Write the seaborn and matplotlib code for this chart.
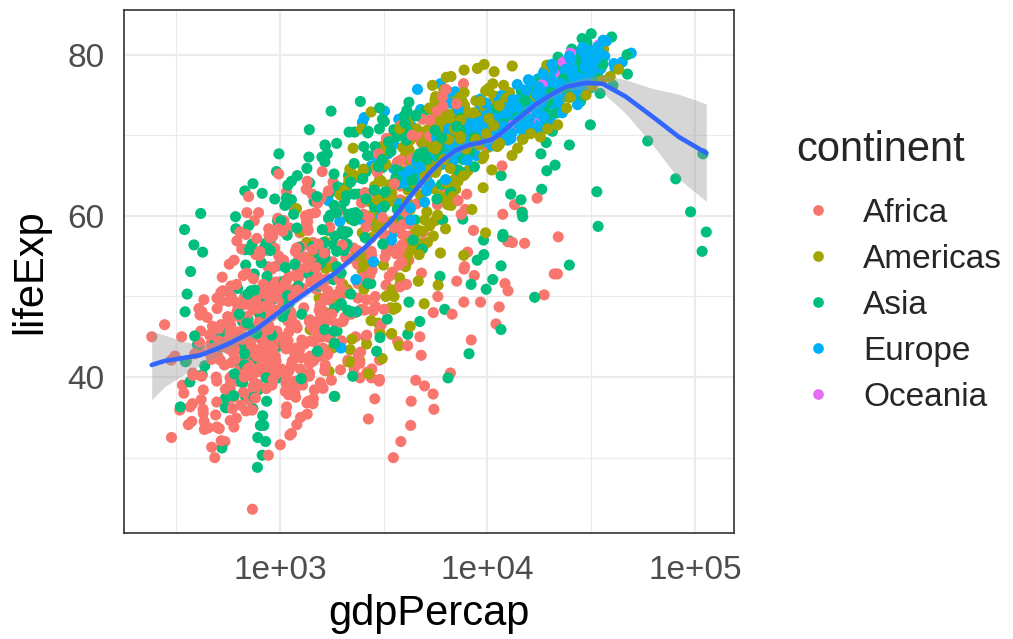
"""
Gapminder scatter: life expectancy vs GDP per capita (log scale), by continent, with smooth.
Output: out.png
"""

import math

import pandas as pd
import matplotlib
matplotlib.use("Agg")
import matplotlib.pyplot as plt
from matplotlib.lines import Line2D
from matplotlib.ticker import NullFormatter
import seaborn as sns

CONTINENTS = ["Africa", "Americas", "Asia", "Europe", "Oceania"]
PALETTE = ["#F8766D", "#A3A500", "#00BF7D", "#00B0F6", "#E76BF3"]

# one row per country, 12 observations (1952..2007)
AFRICA_NAMES = ["Algeria", "Angola", "Benin", "Botswana", "Burkina Faso", "Burundi", "Cameroon",
                "Central African Republic", "Chad", "Comoros", "Congo, Dem. Rep.", "Congo, Rep.",
                "Cote d'Ivoire", "Djibouti", "Egypt", "Equatorial Guinea", "Eritrea", "Ethiopia",
                "Gabon", "Gambia", "Ghana", "Guinea", "Guinea-Bissau", "Kenya", "Lesotho", "Liberia",
                "Libya", "Madagascar", "Malawi", "Mali", "Mauritania", "Mauritius", "Morocco",
                "Mozambique", "Namibia", "Niger", "Nigeria", "Reunion", "Rwanda",
                "Sao Tome and Principe", "Senegal", "Sierra Leone", "Somalia", "South Africa", "Sudan",
                "Swaziland", "Tanzania", "Togo", "Tunisia", "Uganda", "Zambia", "Zimbabwe"]
AFRICA_GDP = [
    [2449, 3014, 2551, 3247, 4183, 4910, 5745, 5681, 5023, 4797, 5288, 6223],
    [3521, 3828, 4269, 5523, 5473, 3009, 2757, 2430, 2628, 2277, 2773, 4797],
    [1063, 960, 949, 1036, 1086, 1029, 1278, 1226, 1191, 1233, 1373, 1441],
    [851, 918, 984, 1215, 2264, 3215, 4551, 6206, 7954, 8647, 11004, 12570],
    [543, 617, 722, 795, 855, 743, 807, 912, 932, 946, 1038, 1217],
    [339, 380, 355, 413, 464, 556, 560, 622, 632, 463, 446, 430],
    [1173, 1313, 1400, 1508, 1684, 1783, 2368, 2603, 1793, 1694, 1934, 2042],
    [1071, 1191, 1193, 1136, 1070, 1109, 956, 844, 748, 741, 738, 706],
    [1179, 1308, 1390, 1197, 1104, 1134, 798, 952, 1058, 1005, 1156, 1704],
    [1103, 1211, 1407, 1876, 1938, 1173, 1267, 1316, 1247, 1174, 1076, 987],
    [781, 906, 896, 862, 905, 796, 674, 673, 458, 312, 241, 278],
    [2126, 2315, 2465, 2678, 3214, 3259, 4880, 4201, 4017, 3485, 3485, 3633],
    [1389, 1501, 1729, 2052, 2378, 2518, 2603, 2157, 1648, 1786, 1649, 1545],
    [2670, 2865, 3021, 3020, 3694, 3082, 2880, 2880, 2377, 1896, 1908, 2082],
    [1419, 1459, 1693, 1815, 2024, 2785, 3504, 3885, 3795, 4173, 4755, 5581],
    [376, 426, 582, 916, 672, 958, 928, 966, 1132, 2815, 7703, 12154],
    [329, 344, 381, 469, 514, 505, 524, 521, 582, 913, 765, 641],
    [362, 379, 419, 516, 566, 556, 577, 574, 421, 516, 530, 691],
    [4293, 4977, 6631, 8358, 11401, 21746, 15113, 11864, 13522, 14723, 12522, 13206],
    [485, 521, 600, 735, 756, 884, 836, 612, 666, 654, 661, 753],
    [911, 1044, 1190, 1126, 1178, 993, 876, 847, 925, 1005, 1112, 1328],
    [510, 576, 686, 708, 741, 874, 857, 805, 795, 870, 945, 943],
    [300, 432, 431, 427, 649, 601, 579, 738, 750, 797, 575, 580],
    [854, 944, 897, 1057, 1222, 1268, 1348, 1361, 1341, 1361, 1288, 1463],
    [299, 336, 412, 498, 497, 745, 797, 774, 977, 1187, 1275, 1569],
    [576, 620, 634, 714, 803, 641, 573, 506, 636, 609, 531, 415],
    [2388, 3448, 6757, 18773, 21011, 21951, 17364, 11770, 9640, 9467, 9535, 12057],
    [1443, 1589, 1643, 1635, 1749, 1544, 1303, 1156, 1040, 987, 894, 1045],
    [369, 417, 427, 496, 585, 663, 633, 636, 564, 692, 665, 759],
    [452, 490, 496, 546, 581, 686, 618, 684, 740, 790, 952, 1043],
    [743, 847, 1055, 1422, 1586, 1497, 1481, 1421, 1361, 1484, 1579, 1803],
    [1968, 2034, 2530, 2475, 2575, 3710, 3689, 4978, 6058, 7426, 9022, 10957],
    [1688, 1643, 1566, 1712, 1930, 2371, 2703, 2755, 2948, 2983, 3258, 3820],
    [469, 496, 557, 666, 725, 503, 462, 389, 410, 473, 634, 824],
    [2424, 2622, 3174, 3793, 3747, 3876, 4191, 3694, 3805, 3900, 4072, 4811],
    [762, 860, 1071, 1385, 1054, 808, 910, 668, 582, 580, 601, 620],
    [1077, 1101, 1151, 1015, 1698, 1982, 1577, 1385, 1620, 1625, 1615, 2014],
    [2719, 2769, 3173, 4021, 5047, 4320, 5268, 5304, 6101, 6072, 6316, 7670],
    [493, 540, 597, 511, 591, 670, 882, 848, 737, 590, 786, 863],
    [880, 861, 1072, 1385, 1533, 1738, 1890, 1516, 1429, 1339, 1353, 1598],
    [1450, 1568, 1654, 1612, 1597, 1562, 1518, 1441, 1367, 1392, 1519, 1712],
    [879, 1004, 1116, 1206, 1353, 1349, 1465, 1294, 1068, 575, 699, 863],
    [1136, 1258, 1369, 1285, 1254, 1451, 1176, 1094, 926, 930, 882, 926],
    [4725, 5487, 5769, 7114, 7765, 8028, 8568, 7826, 7225, 7479, 7711, 9270],
    [1615, 1770, 1959, 1687, 1659, 2202, 1896, 1508, 1493, 1632, 1993, 2602],
    [1148, 1244, 1597, 1872, 2613, 3364, 3782, 3895, 3553, 3877, 4128, 4513],
    [717, 699, 722, 848, 916, 963, 875, 831, 826, 789, 899, 1107],
    [859, 926, 1068, 1477, 1650, 1533, 1344, 1203, 1034, 982, 886, 883],
    [1469, 1395, 1661, 1933, 2753, 3120, 3560, 3811, 4333, 4876, 5723, 7093],
    [735, 775, 767, 908, 950, 844, 682, 618, 644, 817, 927, 1056],
    [1147, 1312, 1453, 1777, 1773, 1589, 1409, 1213, 1211, 1071, 1072, 1271],
    [407, 519, 527, 570, 799, 686, 789, 706, 693, 792, 672, 470],
]
AFRICA_LIFE = [
    [43.1, 45.7, 48.3, 51.4, 54.5, 58.0, 61.4, 65.8, 67.7, 69.2, 71.0, 72.3],
    [30.0, 32.0, 34.0, 36.0, 37.9, 39.5, 39.9, 39.9, 40.6, 41.0, 41.0, 42.7],
    [38.2, 40.4, 42.6, 44.9, 47.0, 49.2, 50.9, 52.3, 53.9, 54.8, 54.4, 56.7],
    [47.6, 49.6, 51.5, 53.3, 56.0, 59.3, 61.5, 63.6, 62.7, 52.6, 46.6, 50.7],
    [32.0, 34.9, 37.8, 40.7, 43.6, 46.1, 48.1, 49.6, 50.3, 50.3, 50.6, 52.3],
    [39.0, 40.5, 42.0, 43.5, 44.1, 45.9, 47.5, 48.2, 44.7, 45.3, 47.4, 49.6],
    [38.5, 40.4, 42.6, 44.8, 47.0, 49.4, 54.0, 55.0, 54.3, 52.2, 49.9, 50.4],
    [35.5, 37.5, 39.5, 41.5, 43.5, 46.8, 48.3, 50.5, 49.4, 46.1, 43.3, 44.7],
    [38.1, 39.9, 41.7, 43.6, 45.6, 47.4, 49.5, 51.1, 51.7, 51.6, 50.5, 50.7],
    [40.7, 42.5, 44.5, 46.5, 48.9, 50.9, 52.9, 54.9, 57.9, 60.7, 63.0, 65.2],
    [39.1, 40.7, 42.1, 44.1, 45.9, 47.8, 49.0, 47.2, 45.2, 42.6, 45.0, 46.5],
    [42.1, 45.0, 48.4, 52.0, 54.9, 55.6, 56.7, 57.5, 56.4, 53.0, 53.0, 55.3],
    [40.5, 42.5, 44.9, 47.4, 49.8, 52.4, 54.0, 54.7, 52.0, 48.0, 46.8, 48.3],
    [34.8, 37.3, 39.7, 42.1, 44.4, 46.5, 48.8, 50.0, 51.6, 53.2, 53.4, 54.8],
    [41.9, 44.4, 47.0, 49.3, 51.1, 53.3, 56.0, 59.8, 63.7, 66.0, 69.8, 71.3],
    [34.5, 36.0, 37.5, 39.0, 40.5, 42.0, 43.7, 45.7, 47.5, 48.2, 49.3, 51.6],
    [35.9, 38.0, 40.2, 42.2, 44.1, 44.5, 43.9, 46.5, 50.0, 53.4, 55.2, 58.0],
    [34.1, 36.7, 40.1, 42.1, 43.5, 44.5, 44.9, 46.7, 48.1, 49.4, 50.7, 52.9],
    [37.0, 38.9, 40.5, 44.6, 48.7, 52.8, 56.6, 60.2, 61.4, 60.5, 56.8, 56.7],
    [30.0, 32.1, 33.8, 35.9, 38.3, 41.8, 45.6, 49.3, 52.6, 55.9, 58.0, 59.4],
    [43.1, 44.8, 46.5, 48.1, 49.9, 51.8, 53.7, 55.7, 57.5, 58.6, 58.5, 60.0],
    [33.6, 34.6, 35.8, 37.2, 38.8, 40.8, 42.9, 45.6, 48.6, 51.5, 53.7, 56.0],
    [32.5, 33.5, 34.5, 35.5, 36.5, 37.5, 39.3, 41.2, 43.3, 44.9, 45.5, 46.4],
    [42.3, 44.7, 47.9, 50.7, 53.6, 56.2, 58.8, 59.3, 59.3, 54.4, 51.0, 54.1],
    [42.1, 45.0, 47.7, 48.5, 49.8, 52.2, 55.1, 57.2, 59.7, 55.6, 44.6, 42.6],
    [38.5, 39.5, 40.5, 41.5, 42.6, 43.8, 44.9, 46.0, 40.8, 42.2, 43.8, 45.7],
    [42.7, 45.3, 47.8, 50.2, 52.8, 57.4, 62.2, 66.2, 68.8, 71.6, 72.7, 74.0],
    [36.7, 38.9, 40.8, 42.9, 45.0, 47.0, 48.6, 49.9, 51.6, 55.0, 57.3, 59.4],
    [36.3, 37.2, 38.4, 39.5, 41.8, 43.8, 45.6, 47.5, 49.4, 47.5, 45.0, 48.3],
    [33.7, 35.3, 36.9, 38.5, 40.0, 41.7, 43.9, 46.4, 48.4, 49.9, 51.8, 54.5],
    [40.5, 42.3, 44.2, 46.3, 48.4, 50.9, 53.6, 56.0, 58.3, 60.4, 62.2, 64.2],
    [51.0, 58.1, 60.2, 61.6, 62.9, 64.9, 66.7, 68.0, 69.6, 70.7, 72.0, 72.8],
    [42.9, 45.4, 47.9, 50.3, 52.9, 55.7, 59.7, 62.7, 65.4, 67.7, 69.6, 71.2],
    [31.3, 33.8, 36.2, 38.1, 40.3, 42.5, 42.8, 42.9, 44.3, 46.3, 44.0, 42.1],
    [41.7, 45.2, 48.4, 51.2, 53.9, 56.4, 59.0, 60.8, 62.0, 58.9, 51.5, 52.9],
    [37.4, 38.6, 39.5, 40.1, 40.5, 41.3, 42.6, 44.6, 47.4, 51.3, 54.5, 56.9],
    [36.3, 37.8, 39.4, 41.0, 42.8, 44.5, 45.8, 46.9, 47.5, 47.5, 46.6, 46.9],
    [52.7, 55.1, 57.7, 60.5, 64.3, 67.1, 69.9, 71.9, 73.6, 74.8, 75.7, 76.4],
    [40.0, 41.5, 43.0, 44.1, 44.6, 45.0, 46.2, 44.0, 23.6, 36.1, 43.4, 46.2],
    [46.5, 48.9, 51.9, 54.4, 56.5, 58.6, 60.4, 61.7, 62.7, 63.3, 64.3, 65.5],
    [37.3, 39.3, 41.5, 43.6, 45.8, 48.9, 52.4, 55.8, 58.2, 60.2, 61.6, 63.1],
    [30.3, 31.6, 32.8, 34.1, 35.4, 36.8, 38.4, 40.0, 38.3, 39.9, 41.0, 42.6],
    [33.0, 35.0, 37.0, 39.0, 41.0, 42.0, 43.0, 44.5, 39.7, 43.8, 45.9, 48.2],
    [45.0, 48.0, 50.0, 51.9, 53.7, 55.5, 58.2, 60.8, 61.9, 60.2, 53.4, 49.3],
    [38.6, 39.6, 40.9, 42.9, 45.1, 47.8, 50.3, 51.6, 53.6, 55.4, 56.4, 58.6],
    [41.4, 43.4, 45.0, 46.6, 49.6, 52.5, 55.6, 57.7, 58.5, 54.3, 43.9, 39.6],
    [41.2, 43.0, 44.2, 45.8, 47.6, 49.9, 50.6, 51.5, 50.4, 48.5, 49.7, 52.5],
    [38.6, 41.2, 43.9, 46.8, 49.8, 52.4, 53.6, 56.0, 58.1, 58.4, 57.6, 58.4],
    [44.6, 47.1, 49.6, 52.1, 55.6, 59.8, 64.0, 66.9, 70.0, 72.0, 73.0, 73.9],
    [40.0, 42.6, 45.3, 48.1, 51.0, 50.4, 49.9, 51.5, 48.8, 44.6, 47.8, 51.5],
    [42.0, 44.1, 46.0, 47.8, 50.1, 51.4, 51.8, 50.8, 46.1, 40.2, 39.2, 42.4],
    [48.5, 50.5, 52.4, 54.0, 55.6, 57.7, 60.4, 62.4, 60.4, 46.8, 40.0, 43.5],
]

AMERICAS_NAMES = ["Argentina", "Bolivia", "Brazil", "Canada", "Chile", "Colombia", "Costa Rica",
                  "Cuba", "Dominican Republic", "Ecuador", "El Salvador", "Guatemala", "Haiti",
                  "Honduras", "Jamaica", "Mexico", "Nicaragua", "Panama", "Paraguay", "Peru",
                  "Puerto Rico", "Trinidad and Tobago", "United States", "Uruguay", "Venezuela"]
AMERICAS_GDP = [
    [5911, 6857, 7133, 8053, 9443, 10079, 8998, 9140, 9308, 10967, 8798, 12779],
    [2677, 2128, 2181, 2587, 2980, 3548, 3157, 2754, 2962, 3326, 3413, 3822],
    [2109, 2487, 3337, 3430, 4986, 6660, 7031, 7807, 6950, 7958, 8131, 9066],
    [11367, 12490, 13462, 16077, 18971, 22091, 22899, 26627, 26343, 28955, 33329, 36319],
    [3940, 4316, 4519, 5107, 5494, 4757, 5096, 5547, 7596, 10118, 10779, 13172],
    [2144, 2323, 2493, 2679, 3265, 3816, 4398, 4903, 5445, 6117, 5755, 7007],
    [2628, 2990, 3461, 4162, 5118, 5927, 5262, 5630, 6160, 6677, 7723, 9645],
    [5587, 6092, 5181, 5690, 5305, 6380, 7317, 7533, 5593, 5431, 6341, 8948],
    [1398, 1544, 1662, 1654, 2190, 2681, 2862, 2899, 3045, 3614, 4564, 6025],
    [3522, 3781, 4086, 4580, 5281, 6680, 7213, 6482, 7104, 7430, 5773, 6873],
    [3048, 3421, 3777, 4359, 4520, 5138, 4099, 4140, 4444, 5154, 5352, 5728],
    [2428, 2617, 2750, 3243, 4031, 4880, 4820, 4246, 4439, 4685, 4859, 5186],
    [1840, 1726, 1797, 1452, 1654, 1875, 2011, 1823, 1456, 1342, 1270, 1202],
    [2195, 2220, 2292, 2539, 2529, 3203, 3121, 3023, 3082, 3160, 3099, 3548],
    [2899, 4756, 5246, 6125, 7434, 6650, 6068, 6351, 7404, 7122, 6995, 7321],
    [3478, 4132, 4582, 5755, 6809, 7675, 9611, 8688, 9472, 9767, 10742, 11978],
    [3112, 3458, 3634, 4643, 4689, 5487, 3470, 2956, 2171, 2253, 2474, 2749],
    [2480, 2961, 3537, 4421, 5365, 5352, 7010, 7034, 6619, 7768, 7356, 9809],
    [1952, 2046, 2148, 2299, 2523, 3248, 4258, 3999, 4196, 4248, 3784, 4173],
    [3759, 4245, 4957, 5788, 5938, 6281, 6435, 6361, 4446, 5838, 5909, 7409],
    [3082, 3908, 5108, 6930, 9124, 9770, 10331, 12281, 14642, 16999, 18856, 19329],
    [3023, 4100, 4997, 5622, 6620, 7900, 9119, 7389, 7370, 8793, 11461, 18009],
    [13990, 14847, 16173, 19530, 21806, 24073, 25010, 29884, 32004, 35767, 39097, 42952],
    [5717, 6151, 5603, 5445, 5703, 6504, 6920, 7452, 8137, 9230, 7727, 10611],
    [7690, 9803, 8422, 9541, 10505, 13144, 11152, 9883, 10734, 10165, 8605, 11416],
]
AMERICAS_LIFE = [
    [62.5, 64.4, 65.1, 65.6, 67.1, 68.5, 69.9, 70.8, 71.9, 73.3, 74.3, 75.3],
    [40.4, 41.9, 43.4, 45.0, 46.7, 50.0, 53.9, 57.3, 60.0, 62.0, 63.9, 65.6],
    [50.9, 53.3, 55.7, 57.6, 59.5, 61.5, 63.3, 65.2, 67.1, 69.4, 71.0, 72.4],
    [68.8, 70.0, 71.3, 72.1, 72.9, 74.2, 75.8, 76.9, 78.0, 78.6, 79.8, 80.7],
    [54.7, 56.1, 57.9, 60.5, 63.4, 67.1, 70.6, 72.5, 74.1, 75.8, 77.9, 78.6],
    [50.6, 55.1, 57.9, 60.0, 61.6, 63.8, 66.7, 67.8, 68.4, 70.3, 71.7, 72.9],
    [57.2, 60.0, 62.8, 65.4, 67.8, 70.8, 73.4, 74.8, 75.7, 77.3, 78.1, 78.8],
    [59.4, 62.3, 65.2, 68.3, 70.7, 72.6, 73.7, 74.2, 74.4, 76.2, 77.2, 78.3],
    [45.9, 49.8, 53.5, 56.8, 59.6, 61.8, 63.7, 66.0, 68.5, 70.0, 70.8, 72.2],
    [48.4, 51.4, 54.6, 56.7, 58.8, 61.3, 64.3, 67.2, 69.6, 72.3, 74.2, 75.0],
    [45.3, 48.6, 52.3, 55.9, 58.2, 56.7, 56.6, 63.2, 66.8, 69.5, 70.7, 71.9],
    [42.0, 44.1, 47.0, 50.0, 53.7, 56.0, 58.1, 60.8, 63.4, 66.3, 69.0, 70.3],
    [37.6, 40.7, 43.6, 46.2, 48.0, 49.9, 51.5, 53.6, 55.1, 56.7, 58.1, 60.9],
    [41.9, 44.7, 48.0, 50.9, 53.9, 57.4, 60.9, 64.5, 66.4, 67.7, 68.6, 70.2],
    [58.5, 62.6, 65.6, 67.5, 69.0, 70.1, 71.2, 71.8, 71.8, 72.3, 72.0, 72.6],
    [50.8, 55.2, 58.3, 60.1, 62.4, 65.0, 67.4, 69.5, 71.5, 73.7, 74.9, 76.2],
    [42.3, 45.4, 48.6, 51.9, 55.2, 57.5, 59.3, 62.0, 65.8, 68.4, 70.8, 72.9],
    [55.2, 59.2, 61.8, 64.1, 66.2, 68.7, 70.5, 72.0, 72.5, 73.7, 74.7, 75.5],
    [62.6, 63.2, 64.4, 65.0, 65.8, 66.4, 66.9, 67.4, 68.2, 69.4, 70.8, 71.8],
    [43.9, 46.3, 49.1, 51.4, 55.4, 58.4, 61.4, 64.1, 66.5, 68.4, 69.9, 71.4],
    [64.3, 68.5, 69.6, 71.1, 72.2, 73.4, 73.8, 74.6, 73.9, 74.9, 77.8, 78.7],
    [59.1, 61.8, 64.9, 65.4, 65.9, 68.3, 68.8, 69.6, 69.9, 69.5, 69.0, 69.8],
    [68.4, 69.5, 70.2, 70.8, 71.3, 73.4, 74.7, 75.0, 76.1, 76.8, 77.3, 78.2],
    [66.1, 67.0, 68.3, 68.5, 68.7, 69.5, 70.8, 71.9, 72.8, 74.2, 75.3, 76.4],
    [55.1, 57.9, 60.8, 63.5, 65.7, 67.5, 68.6, 70.2, 71.2, 72.1, 72.8, 73.7],
]

ASIA_NAMES = ["Afghanistan", "Bahrain", "Bangladesh", "Cambodia", "China", "Hong Kong, China",
              "India", "Indonesia", "Iran", "Iraq", "Israel", "Japan", "Jordan", "Korea, Dem. Rep.",
              "Korea, Rep.", "Kuwait", "Lebanon", "Malaysia", "Mongolia", "Myanmar", "Nepal", "Oman",
              "Pakistan", "Philippines", "Saudi Arabia", "Singapore", "Sri Lanka", "Syria", "Taiwan",
              "Thailand", "Vietnam", "West Bank and Gaza", "Yemen, Rep."]
ASIA_GDP = [
    [779, 821, 853, 836, 740, 786, 978, 852, 649, 635, 727, 975],
    [9867, 11636, 12753, 14805, 18269, 19340, 19211, 18524, 19036, 20292, 23404, 29796],
    [684, 662, 686, 721, 630, 660, 677, 752, 838, 973, 1136, 1391],
    [368, 434, 497, 523, 422, 525, 625, 684, 682, 734, 896, 1714],
    [400, 576, 488, 613, 677, 741, 962, 1379, 1656, 2289, 3119, 4959],
    [3054, 3629, 4693, 6198, 8316, 11186, 14561, 20038, 24758, 28378, 30209, 39725],
    [547, 590, 658, 701, 724, 813, 856, 977, 1164, 1459, 1747, 2452],
    [750, 859, 849, 762, 1111, 1383, 1517, 1748, 2383, 3119, 2874, 3541],
    [3035, 3290, 4187, 5907, 9614, 11889, 7608, 6643, 7235, 8264, 9241, 11606],
    [4130, 6229, 8342, 8931, 9576, 14688, 14517, 11644, 3746, 3076, 4391, 4471],
    [4087, 5385, 7106, 8394, 12786, 13306, 15367, 17122, 18051, 20897, 21905, 25523],
    [3217, 4318, 6577, 9848, 14779, 16610, 19384, 22376, 26825, 28817, 28605, 31656],
    [1547, 1886, 2348, 2742, 2110, 2852, 4162, 4448, 3431, 3645, 3845, 4519],
    [1088, 1571, 1622, 2144, 3702, 4106, 4106, 4106, 3726, 1691, 1647, 1593],
    [1031, 1488, 1536, 2029, 3031, 4657, 5623, 8533, 12104, 15994, 19234, 23348],
    [108382, 113523, 95458, 80895, 109348, 59265, 31354, 28118, 34933, 40301, 35110, 47307],
    [4835, 6090, 5715, 6006, 7487, 8659, 7641, 5377, 6891, 8755, 9314, 10461],
    [1831, 1810, 2036, 2278, 2849, 4269, 4920, 5249, 7278, 10132, 10207, 12452],
    [786, 912, 1056, 1226, 1421, 1648, 1842, 2155, 1826, 1902, 2140, 3096],
    [331, 350, 388, 349, 357, 371, 424, 385, 347, 415, 611, 944],
    [546, 598, 652, 676, 674, 695, 862, 866, 898, 1011, 1057, 1091],
    [1828, 2243, 2925, 4721, 10618, 11848, 12955, 18115, 18617, 19702, 19775, 22316],
    [684, 747, 804, 942, 1050, 1176, 1443, 1705, 1972, 2049, 2093, 2606],
    [1273, 1548, 1650, 1814, 1990, 2373, 2604, 2190, 2279, 2537, 2651, 3190],
    [6460, 8157, 11626, 16903, 24837, 34168, 33693, 21199, 24841, 20586, 19014, 21655],
    [2315, 2843, 3675, 4977, 8597, 11210, 15169, 18862, 24769, 33519, 36023, 47143],
    [1084, 1073, 1075, 1136, 1213, 1349, 1648, 1877, 2154, 2664, 3015, 3970],
    [1644, 2118, 2194, 1882, 2572, 3196, 3622, 3117, 3341, 4014, 4090, 4185],
    [1207, 1508, 1823, 2644, 4063, 5597, 7426, 11055, 15216, 20207, 23235, 28718],
    [758, 1062, 1236, 1600, 1875, 2093, 2510, 2983, 4617, 5853, 5914, 7458],
    [605, 676, 772, 637, 700, 714, 707, 821, 989, 1386, 1764, 2442],
    [1516, 1827, 2199, 2650, 3133, 3683, 4336, 5107, 6018, 7111, 4516, 3025],
    [782, 805, 826, 863, 1265, 1830, 1978, 1972, 1879, 2117, 2235, 2281],
]
ASIA_LIFE = [
    [28.8, 30.3, 32.0, 34.0, 36.1, 38.4, 39.9, 40.8, 41.7, 41.8, 42.1, 43.8],
    [50.9, 53.8, 56.9, 59.9, 63.3, 65.6, 69.1, 70.8, 72.6, 73.9, 74.8, 75.6],
    [37.5, 39.3, 41.2, 43.5, 45.3, 46.9, 50.0, 52.8, 56.0, 59.4, 62.0, 64.1],
    [39.4, 41.4, 43.4, 45.4, 40.3, 31.2, 51.0, 53.9, 55.8, 56.5, 56.8, 59.7],
    [44.0, 50.5, 44.5, 58.4, 63.1, 64.0, 65.5, 67.3, 68.7, 70.4, 72.0, 73.0],
    [61.0, 64.8, 67.7, 70.0, 72.0, 73.6, 75.5, 76.2, 77.6, 80.0, 81.5, 82.2],
    [37.4, 40.2, 43.6, 47.2, 50.7, 54.2, 56.6, 58.6, 60.2, 61.8, 62.9, 64.7],
    [37.5, 39.9, 42.5, 46.0, 49.2, 52.7, 56.2, 60.1, 62.7, 66.0, 68.6, 70.7],
    [44.9, 47.2, 49.3, 52.5, 55.2, 57.7, 59.6, 63.0, 65.7, 68.0, 69.5, 71.0],
    [45.3, 48.4, 51.5, 54.5, 57.0, 60.4, 62.0, 65.0, 59.5, 58.8, 57.0, 59.5],
    [65.4, 67.8, 69.4, 70.8, 71.6, 73.1, 74.5, 75.6, 76.9, 78.3, 79.7, 80.7],
    [63.0, 65.5, 68.7, 71.4, 73.4, 75.4, 77.1, 78.7, 79.4, 80.7, 82.0, 82.6],
    [43.2, 45.7, 48.1, 51.6, 56.5, 61.1, 63.7, 65.9, 68.0, 69.8, 71.3, 72.5],
    [50.1, 54.1, 56.7, 59.9, 64.0, 67.2, 69.1, 70.6, 70.0, 67.7, 66.7, 67.3],
    [47.5, 52.7, 55.3, 57.7, 62.6, 64.8, 67.1, 69.8, 72.2, 74.6, 77.0, 78.6],
    [55.6, 58.0, 60.5, 64.6, 67.7, 69.3, 71.3, 74.2, 75.2, 76.2, 76.9, 77.6],
    [55.9, 59.5, 62.1, 63.9, 65.4, 66.1, 67.0, 67.9, 69.3, 70.3, 71.0, 72.0],
    [48.5, 52.1, 55.7, 59.4, 63.0, 65.3, 68.0, 69.5, 70.7, 71.9, 73.0, 74.2],
    [42.2, 45.2, 48.3, 51.3, 53.8, 55.5, 57.5, 60.2, 61.3, 63.6, 65.0, 66.8],
    [36.3, 41.9, 45.1, 48.1, 50.3, 53.1, 55.5, 56.4, 58.3, 60.3, 59.9, 62.1],
    [36.2, 37.7, 39.4, 41.5, 44.0, 46.7, 49.6, 52.5, 55.7, 59.4, 61.3, 63.8],
    [37.6, 40.1, 43.2, 46.9, 52.1, 57.4, 62.7, 67.7, 71.2, 72.5, 74.2, 75.6],
    [43.4, 45.6, 47.7, 49.8, 51.9, 54.0, 56.2, 58.2, 60.8, 61.8, 63.6, 65.5],
    [47.8, 51.3, 54.8, 56.4, 58.1, 60.1, 62.1, 64.2, 66.5, 68.6, 70.3, 71.7],
    [39.9, 42.9, 45.9, 49.9, 53.9, 58.7, 63.0, 66.3, 68.8, 70.5, 71.6, 72.8],
    [60.4, 63.2, 65.8, 67.9, 69.5, 70.8, 71.8, 73.6, 75.8, 77.2, 78.8, 80.0],
    [57.6, 61.5, 62.2, 64.3, 65.0, 65.9, 68.8, 69.0, 70.4, 70.5, 70.8, 72.4],
    [45.9, 48.3, 50.3, 53.7, 57.3, 61.2, 64.6, 67.0, 69.2, 71.5, 73.1, 74.1],
    [58.5, 62.4, 65.2, 67.5, 69.4, 70.6, 72.2, 73.4, 74.3, 75.3, 77.0, 78.4],
    [50.8, 53.6, 56.1, 58.3, 60.4, 62.5, 64.6, 66.1, 67.3, 67.5, 68.6, 70.6],
    [40.4, 42.9, 45.4, 47.8, 50.3, 55.8, 58.8, 62.8, 67.7, 70.7, 73.0, 74.2],
    [43.2, 45.7, 48.1, 51.6, 56.5, 60.8, 64.4, 67.0, 69.7, 71.1, 72.4, 73.4],
    [32.5, 34.0, 35.2, 37.0, 39.8, 44.2, 49.1, 52.9, 55.6, 58.0, 60.3, 62.7],
]

EUROPE_NAMES = ["Albania", "Austria", "Belgium", "Bosnia and Herzegovina", "Bulgaria", "Croatia",
                "Czech Republic", "Denmark", "Finland", "France", "Germany", "Greece", "Hungary",
                "Iceland", "Ireland", "Italy", "Montenegro", "Netherlands", "Norway", "Poland",
                "Portugal", "Romania", "Serbia", "Slovak Republic", "Slovenia", "Spain", "Sweden",
                "Switzerland", "Turkey", "United Kingdom"]
EUROPE_GDP = [
    [1601, 1942, 2313, 2760, 3313, 3533, 3631, 3739, 2497, 3193, 4604, 5937],
    [6137, 8843, 10751, 12835, 16662, 19749, 21597, 23688, 27042, 29096, 32418, 36126],
    [8343, 9715, 10991, 13149, 16672, 19118, 20980, 22526, 25576, 27561, 30486, 33693],
    [974, 1354, 1710, 2172, 2860, 3528, 4127, 4314, 2547, 4766, 6019, 7446],
    [2444, 3009, 4255, 5578, 6597, 7612, 8225, 8240, 6303, 5970, 7697, 10681],
    [3119, 4338, 5478, 6960, 9164, 11305, 13222, 13823, 8448, 9876, 11628, 14619],
    [6876, 8256, 10137, 11399, 13108, 14800, 15377, 16310, 14297, 16049, 17596, 22833],
    [9692, 11099, 13583, 15937, 18866, 20423, 21688, 25116, 26407, 29804, 32166, 35278],
    [6425, 7545, 9372, 10922, 14359, 15605, 18533, 21141, 20647, 23724, 28205, 33207],
    [7030, 8663, 10560, 13000, 16107, 18293, 20294, 22066, 24704, 25890, 28926, 30470],
    [7144, 10188, 12902, 14746, 18016, 20513, 22032, 24639, 26505, 27789, 30036, 32170],
    [3531, 4916, 6017, 8513, 12725, 14196, 15268, 16121, 17541, 18747, 22514, 27538],
    [5264, 6040, 7550, 9326, 10168, 11675, 12546, 12986, 10535, 11712, 14843, 18009],
    [7268, 9244, 10350, 13320, 15798, 19655, 23270, 26923, 25144, 28061, 31163, 36181],
    [5210, 5599, 6632, 7656, 9531, 11151, 12618, 13873, 17559, 24522, 34077, 40676],
    [4931, 6249, 8244, 10022, 12269, 14256, 16537, 19208, 22014, 24675, 27968, 28570],
    [2648, 3682, 4650, 5907, 7779, 9596, 11222, 11733, 7003, 6465, 6558, 9254],
    [8942, 11277, 12791, 15363, 18795, 21209, 21399, 23651, 26791, 30246, 33725, 36798],
    [10095, 11654, 13450, 16362, 18965, 23311, 26298, 31541, 33966, 41283, 44684, 49357],
    [4029, 4734, 5339, 6557, 8007, 9508, 8452, 9082, 7739, 10160, 12002, 15390],
    [3068, 3775, 4728, 6361, 9022, 10172, 11754, 13039, 16207, 17641, 19971, 20510],
    [3145, 3943, 4735, 6471, 8011, 9356, 9605, 9697, 6598, 7346, 7886, 10808],
    [3581, 4981, 6289, 7991, 10523, 12980, 15181, 15870, 9325, 7914, 7236, 9787],
    [5074, 6093, 7481, 8412, 9674, 10922, 11348, 12037, 9498, 12126, 13638, 18678],
    [4215, 5862, 7403, 9405, 12384, 15277, 17867, 18678, 14215, 17161, 20660, 25768],
    [3834, 4565, 5694, 7994, 10639, 13237, 13926, 15765, 18603, 20445, 24835, 28821],
    [8528, 9912, 12329, 15258, 17832, 18856, 21889, 23517, 23880, 25267, 29342, 33860],
    [14734, 17909, 20431, 22966, 27195, 26982, 28398, 30282, 31872, 32135, 34481, 37506],
    [1969, 2219, 2323, 2826, 3451, 4270, 4241, 5089, 5679, 6601, 6508, 8458],
    [9980, 11283, 12477, 14143, 15895, 17428, 18232, 21664, 22705, 26074, 29479, 33203],
]
EUROPE_LIFE = [
    [55.2, 59.3, 64.8, 66.2, 67.7, 68.9, 70.4, 72.0, 71.6, 73.0, 75.7, 76.4],
    [66.8, 67.5, 69.5, 70.1, 70.6, 72.2, 73.2, 74.9, 76.0, 77.5, 79.0, 79.8],
    [68.0, 69.2, 70.3, 70.9, 71.4, 72.8, 73.9, 75.4, 76.5, 77.5, 78.3, 79.4],
    [53.8, 58.5, 61.9, 64.8, 67.5, 69.9, 70.7, 71.1, 72.2, 73.2, 74.1, 74.9],
    [59.6, 66.6, 69.5, 70.4, 70.9, 70.8, 71.1, 71.3, 71.2, 70.3, 72.1, 73.0],
    [61.2, 64.8, 67.1, 68.5, 69.6, 70.6, 70.5, 71.5, 72.5, 73.7, 74.9, 75.7],
    [66.9, 69.0, 69.9, 70.4, 70.3, 70.7, 71.0, 71.6, 72.4, 74.0, 75.5, 76.5],
    [70.8, 71.8, 72.4, 73.0, 73.5, 74.7, 74.6, 74.8, 75.3, 76.1, 77.2, 78.3],
    [66.5, 67.5, 68.8, 69.8, 70.9, 72.5, 74.5, 74.8, 75.7, 77.1, 78.4, 79.3],
    [67.4, 68.9, 70.5, 71.6, 72.4, 73.8, 74.9, 76.3, 77.5, 78.6, 79.6, 80.7],
    [67.5, 69.1, 70.3, 70.8, 71.0, 72.5, 73.8, 74.8, 76.1, 77.3, 78.7, 79.4],
    [65.9, 67.9, 69.5, 71.0, 72.3, 73.7, 75.2, 76.7, 77.0, 77.9, 78.3, 79.5],
    [64.0, 66.4, 68.0, 69.5, 69.8, 70.0, 69.4, 69.6, 69.2, 71.0, 72.6, 73.3],
    [72.5, 73.5, 73.7, 73.7, 74.5, 76.1, 77.0, 77.2, 78.8, 79.0, 80.5, 81.8],
    [66.9, 68.9, 70.3, 71.1, 71.3, 72.0, 73.1, 74.4, 75.5, 76.1, 77.8, 78.9],
    [65.9, 67.8, 69.2, 71.1, 72.2, 73.5, 75.0, 76.4, 77.4, 78.8, 80.2, 80.5],
    [59.2, 61.4, 64.0, 67.2, 70.6, 73.1, 74.1, 74.9, 75.4, 75.4, 74.0, 74.5],
    [72.1, 73.0, 73.2, 73.8, 73.8, 75.2, 76.1, 76.8, 77.4, 78.0, 78.5, 79.8],
    [72.7, 73.4, 73.5, 74.1, 74.3, 75.4, 76.0, 75.9, 77.3, 78.3, 79.1, 80.2],
    [61.3, 65.8, 67.6, 69.6, 70.9, 70.7, 71.3, 71.0, 71.0, 72.8, 74.7, 75.6],
    [59.8, 61.5, 64.4, 66.6, 69.3, 70.4, 72.8, 74.1, 74.9, 76.0, 77.3, 78.1],
    [61.1, 64.1, 66.8, 66.8, 69.2, 69.5, 69.7, 69.5, 69.4, 69.7, 71.3, 72.5],
    [58.0, 61.7, 64.5, 66.9, 68.7, 70.3, 70.2, 71.2, 71.7, 72.2, 73.2, 74.0],
    [64.4, 67.5, 70.3, 71.1, 70.3, 70.5, 70.8, 71.1, 71.4, 72.7, 73.8, 74.7],
    [65.6, 67.9, 69.2, 69.2, 69.8, 71.0, 71.1, 72.3, 73.6, 75.1, 76.7, 77.9],
    [64.9, 66.7, 69.7, 71.4, 73.1, 74.4, 76.3, 76.9, 77.6, 78.8, 79.8, 80.9],
    [71.9, 72.5, 73.4, 74.2, 74.7, 75.4, 76.4, 77.2, 78.2, 79.4, 80.0, 80.9],
    [69.6, 70.6, 71.3, 72.8, 73.8, 75.4, 76.2, 77.4, 78.0, 79.4, 80.6, 81.7],
    [43.6, 48.1, 52.1, 54.3, 57.0, 59.5, 61.0, 63.1, 66.1, 68.8, 70.8, 71.8],
    [69.2, 70.4, 70.8, 71.4, 72.0, 72.8, 74.0, 75.0, 76.4, 77.2, 78.5, 79.4],
]

OCEANIA_NAMES = ["Australia", "New Zealand"]
OCEANIA_GDP = [
    [10040, 10950, 12217, 14526, 16789, 18334, 19477, 21889, 23425, 26998, 30688, 34435],
    [10557, 12247, 13176, 14464, 16046, 16234, 17632, 19007, 18363, 21050, 23190, 25185],
]
OCEANIA_LIFE = [
    [69.1, 70.3, 70.9, 71.1, 71.9, 73.5, 74.7, 76.3, 77.6, 78.8, 80.4, 81.2],
    [69.4, 70.3, 71.2, 71.5, 71.9, 72.2, 73.8, 74.3, 76.3, 77.6, 79.1, 80.2],
]

# smoothed fit and its confidence band
SMOOTH_GDP = [241, 278, 348, 411, 485, 573, 757, 1057, 1396, 1844, 2574, 3476, 4489, 5305,
              6062, 7004, 8094, 9253, 10573, 11817, 13208, 17060, 20158, 23821, 29741, 35950,
              46427, 62683, 83717, 113523]
SMOOTH_FIT = [41.5, 42.0, 42.4, 42.7, 43.4, 44.2, 45.8, 48.6, 50.8, 52.9, 56.1, 59.5, 63.2, 65.4,
              66.9, 68.1, 68.8, 69.1, 69.5, 70.4, 71.5, 73.8, 75.0, 76.0, 76.5, 76.4,
              74.8, 72.3, 69.8, 67.8]
SMOOTH_LO = [37.2, 38.8, 40.4, 41.4, 42.4, 43.4, 45.2, 48.1, 50.35, 52.45, 55.65, 59.05, 62.75,
             64.95, 66.45, 67.65, 68.35, 68.65, 69.05, 69.95, 71.05, 73.35, 74.5, 75.5, 75.8,
             75.3, 72.7, 68.8, 64.6, 61.8]
SMOOTH_HI = [45.7, 45.2, 44.4, 44.0, 44.4, 45.0, 46.4, 49.1, 51.25, 53.35, 56.55, 59.95, 63.65,
             65.85, 67.35, 68.55, 69.25, 69.55, 69.95, 70.85, 71.95, 74.25, 75.5, 76.5, 77.2,
             77.5, 76.9, 75.8, 75.1, 73.9]


def build_frame():
    parts = []
    groups = [("Africa", AFRICA_NAMES, AFRICA_GDP, AFRICA_LIFE),
              ("Americas", AMERICAS_NAMES, AMERICAS_GDP, AMERICAS_LIFE),
              ("Asia", ASIA_NAMES, ASIA_GDP, ASIA_LIFE),
              ("Europe", EUROPE_NAMES, EUROPE_GDP, EUROPE_LIFE),
              ("Oceania", OCEANIA_NAMES, OCEANIA_GDP, OCEANIA_LIFE)]
    for continent, names, gdp_rows, life_rows in groups:
        for name, gdp, life in zip(names, gdp_rows, life_rows):
            parts.append(pd.DataFrame({"country": name, "continent": continent,
                                       "gdpPercap": gdp, "lifeExp": life}))
    # rows are drawn in country order, as in the source table
    return pd.concat(parts).sort_values("country", kind="stable").reset_index(drop=True)


df = build_frame()

sns.set_theme(style="white")
plt.rcParams["font.family"] = ["Liberation Sans", "DejaVu Sans"]

W, H = 1013, 639
fig = plt.figure(figsize=(W / 100, H / 100), dpi=100)
ax = fig.add_axes([124 / W, 1 - 533 / H, 610 / W, 523 / H])

sns.scatterplot(data=df, x="gdpPercap", y="lifeExp", hue="continent", hue_order=CONTINENTS,
                palette=PALETTE, s=64, linewidth=0, legend=False, ax=ax, zorder=2)
ax.fill_between(SMOOTH_GDP, SMOOTH_LO, SMOOTH_HI, color="#999999", alpha=0.4,
                linewidth=0, zorder=3)
sns.lineplot(x=SMOOTH_GDP, y=SMOOTH_FIT, color="#3366FF", linewidth=3.3, ax=ax, zorder=4)

# ggplot-style 5% expansion of the data range (log scale on x)
ax.set_xscale("log")
a, b = math.log10(df["gdpPercap"].min()), math.log10(df["gdpPercap"].max())
ax.set_xlim(10 ** (a - 0.05 * (b - a)), 10 ** (b + 0.05 * (b - a)))
ymin, ymax = df["lifeExp"].min(), df["lifeExp"].max()
ax.set_ylim(ymin - 0.05 * (ymax - ymin), ymax + 0.05 * (ymax - ymin))

ax.set_xticks([1e3, 1e4, 1e5])
ax.set_xticklabels(["1e+03", "1e+04", "1e+05"])
ax.set_xticks([10 ** 2.5, 10 ** 3.5, 10 ** 4.5], minor=True)
ax.xaxis.set_minor_formatter(NullFormatter())
ax.set_yticks([40, 60, 80])
ax.set_yticks([30, 50, 70], minor=True)

ax.grid(which="major", color="#EBEBEB", linewidth=1.6)
ax.grid(which="minor", color="#EBEBEB", linewidth=0.8)
ax.set_axisbelow(True)
ax.tick_params(which="major", length=5, width=1.1, color="#333333",
               labelsize=24, labelcolor="#4D4D4D")
ax.tick_params(axis="x", which="major", pad=11)
ax.tick_params(axis="y", which="major", pad=9.2)
ax.tick_params(which="minor", length=0)
for sp in ax.spines.values():
    sp.set_color("#333333")
    sp.set_linewidth(1.2)

ax.set_xlabel("gdpPercap", fontsize=30, color="black")
ax.set_ylabel("lifeExp", fontsize=30, color="black")
ax.xaxis.label.set_verticalalignment("center")
ax.yaxis.label.set_verticalalignment("center")
ax.xaxis.set_label_coords(0.5, (533 - 614) / 523)
ax.yaxis.set_label_coords((30 - 124) / 610, 0.5)

handles = [Line2D([], [], ls="", marker="o", markersize=7.7, markerfacecolor=c,
                  markeredgewidth=0) for c in PALETTE]
ax.legend(handles, CONTINENTS, loc="upper left", bbox_to_anchor=(801 / W, 1 - 197.5 / H),
          bbox_transform=fig.transFigure, frameon=False, fontsize=24, handlelength=1.0,
          handletextpad=0.86, labelspacing=0.455, borderpad=0, borderaxespad=0)
fig.text(796 / W, 1 - 161 / H, "continent", fontsize=30, ha="left", va="baseline")

fig.savefig("out.png", dpi=100)
